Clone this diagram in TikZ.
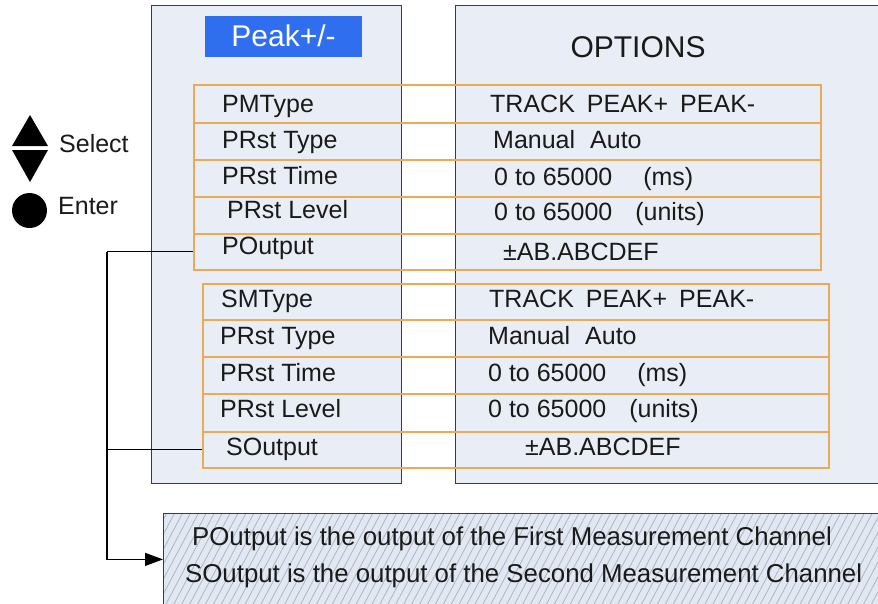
\documentclass[tikz,border=0pt]{standalone}
\usepackage{fontspec}
\setmainfont{Liberation Sans}
\usetikzlibrary{arrows.meta,patterns.meta}
\definecolor{panelfill}{HTML}{E9EEF6}
\definecolor{panelline}{HTML}{3C3C3C}
\definecolor{rowline}{HTML}{EDAA55}
\definecolor{peakblue}{HTML}{2F6FEF}
\definecolor{txt}{HTML}{1A1A1A}
\definecolor{notefill}{HTML}{E2E8F2}
\definecolor{hatchc}{HTML}{AEB4C2}
\begin{document}
\begin{tikzpicture}[x=1pt,y=-1pt,
  panel/.style={draw=panelline, line width=1.4pt, fill=panelfill, anchor=north west, inner sep=0pt},
  rowbox/.style={draw=rowline, line width=1.7pt, anchor=north west, inner sep=0pt, minimum height=#1},
  rowtxt/.style={font=\fontsize{25}{30}\selectfont, text=txt, inner sep=0pt, anchor=base west},
  titletxt/.style={font=\fontsize{30}{36}\selectfont, inner sep=0pt, anchor=base},
  notetxt/.style={font=\fontsize{25.8}{31}\selectfont, text=txt, inner sep=0pt, anchor=base west},
  wire/.style={draw=black, line width=1.2pt},
]
\path[use as bounding box] (0,0) rectangle (878,603);
\clip (0,0) rectangle (878,603);
\fill[white] (0,0) rectangle (878,603);

% panels
\node[panel, minimum width=250pt, minimum height=478pt] (lp) at (151,5) {};
\node[panel, minimum width=460pt, minimum height=478pt] (rp) at (455,5) {};

% title boxes
\node[fill=peakblue, anchor=north west, minimum width=157pt, minimum height=41pt, inner sep=0pt] (pk) at (205,16) {};
\node[titletxt, text=white] (pkt) at (283.5,46) {Peak+/-};
\node[titletxt, text=txt] (opt) at (638,57) {OPTIONS};

% group 1 rows
\begin{scope}[every node/.append style={minimum width=627pt}]
\node[rowbox=38pt] (p1) at (193,84) {};
\node[rowbox=37pt] (p2) at (193,122) {};
\node[rowbox=37pt] (p3) at (193,159) {};
\node[rowbox=37pt] (p4) at (193,196) {};
\node[rowbox=36pt] (p5) at (193,233) {};
\end{scope}
% group 2 rows
\begin{scope}[every node/.append style={minimum width=626pt}]
\node[rowbox=36pt] (s1) at (202,283) {};
\node[rowbox=37pt] (s2) at (202,319) {};
\node[rowbox=37pt] (s3) at (202,356) {};
\node[rowbox=38pt] (s4) at (202,393) {};
\node[rowbox=36pt] (s5) at (202,431) {};
\end{scope}

% group 1 texts
\node[rowtxt] (pl1) at (222,112) {PMType};
\node[rowtxt] (pl2) at (222,148) {PRst Type};
\node[rowtxt] (pl3) at (222,184) {PRst Time};
\node[rowtxt] (pl4) at (227,218) {PRst Level};
\node[rowtxt] (pl5) at (222,254) {POutput};
\node[rowtxt] (pr1) at (490,112) {TRACK\hspace{12pt}PEAK+\hspace{12pt}PEAK-};
\node[rowtxt] (pr2) at (493,148) {Manual\hspace{15pt}Auto};
\node[rowtxt] (pr3) at (494,185) {0 to 65000\hspace{31pt}(ms)};
\node[rowtxt] (pr4) at (494,220) {0 to 65000\hspace{23pt}(units)};
\node[rowtxt] (pr5) at (503,260) {±AB.ABCDEF};

% group 2 texts
\node[rowtxt] (sl1) at (221,307) {SMType};
\node[rowtxt] (sl2) at (220,344) {PRst Type};
\node[rowtxt] (sl3) at (220,381) {PRst Time};
\node[rowtxt] (sl4) at (220,417) {PRst Level};
\node[rowtxt] (sl5) at (226,455) {SOutput};
\node[rowtxt] (sr1) at (489,307) {TRACK\hspace{12pt}PEAK+\hspace{12pt}PEAK-};
\node[rowtxt] (sr2) at (488,344) {Manual\hspace{15pt}Auto};
\node[rowtxt] (sr3) at (488,381) {0 to 65000\hspace{31pt}(ms)};
\node[rowtxt] (sr4) at (488,417) {0 to 65000\hspace{23pt}(units)};
\node[rowtxt] (sr5) at (525,455) {±AB.ABCDEF};

% legend keys
\fill[black] (30,115) -- (48,146) -- (12,146) -- cycle;
\fill[black] (12,150) -- (48,150) -- (30,182) -- cycle;
\fill[black] (29.5,210.5) circle (17.5);
\node[rowtxt] (sel) at (59,152) {Select};
\node[rowtxt] (ent) at (58,214) {Enter};

% note box
\node[draw=panelline, line width=1.4pt, anchor=north west, inner sep=0pt,
      minimum width=730pt, minimum height=92pt,
      preaction={fill=notefill},
      pattern={Lines[angle=62,distance=7pt,line width=0.8pt]}, pattern color=hatchc] (note) at (163,513) {};
\node[notetxt] (n1) at (192,545) {POutput is the output of the First Measurement Channel};
\node[notetxt] (n2) at (185,582) {SOutput is the output of the Second Measurement Channel};

% connectors
\coordinate (jx) at (107,0);
\draw[wire] (p5.west) -- (p5.west -| jx);
\draw[wire] (s5.west) -- (s5.west -| jx);
\draw[wire, -{Triangle[length=18pt,width=13pt]}] (p5.west -| jx) |- (note.west);
\end{tikzpicture}
\end{document}
